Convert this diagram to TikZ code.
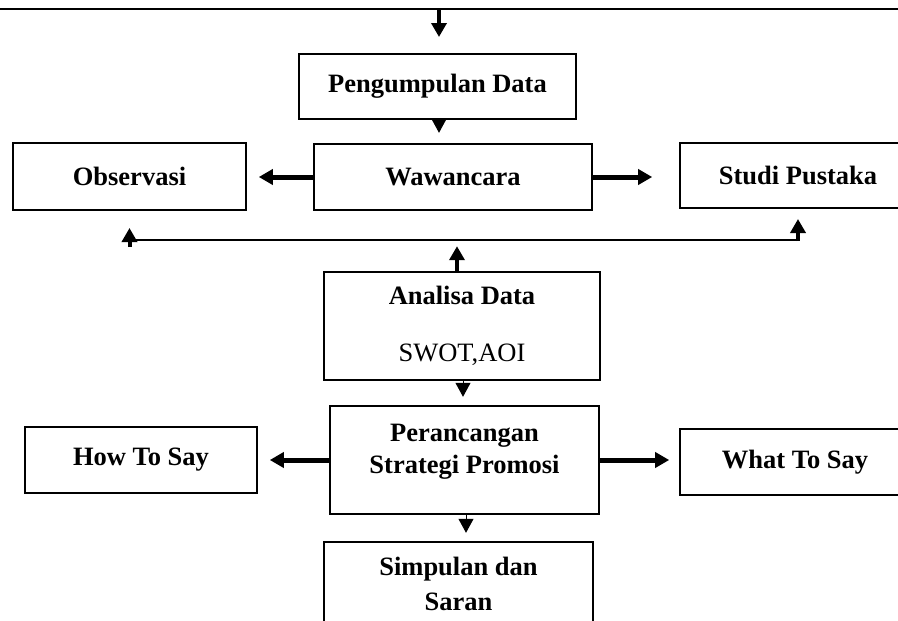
\documentclass[tikz,border=0pt]{standalone}
\usepackage{fontspec}
\setmainfont{Liberation Serif}
\usepackage{xcolor}
\usepackage{tikz}
\usetikzlibrary{arrows.meta,positioning,calc}
\definecolor{inkblack}{RGB}{0, 0, 0}

\begin{document}
\begin{tikzpicture}[x=1pt, y=-1pt,
        box/.style={draw=inkblack, line width=1.6pt, align=center,
            font=\bfseries\fontsize{26.5}{32}\selectfont},
        fatarrow/.style={draw=inkblack, line width=5pt,
            -{Triangle[width=15pt,length=14pt]}},
        midarrow/.style={draw=inkblack, line width=4pt,
            -{Triangle[width=15pt,length=14pt]}},
        tiparrow/.style={draw=inkblack, line width=1pt,
            -{Triangle[width=15pt,length=14pt]}},
        thinline/.style={draw=inkblack, line width=2pt}]
            \useasboundingbox (0,0) rectangle (898,621);
            \clip (0,0) rectangle (898,621);

            % Line from the step above
            \draw[inkblack, line width=2.6pt] (-5,9) -- (903,9);
            \coordinate (topline) at (439,9);
            \coordinate (brk) at (457,240);

            % Data collection
            \node[box, minimum width=277, minimum height=65] (peng) at (437.5,86.5) {Pengumpulan Data};
            \node[box, minimum width=233, minimum height=67] (obs) at (129.5,176.5) {Observasi};
            \node[box, minimum width=278, minimum height=66] (waw) at (453,177) {Wawancara};
            \node[box, minimum width=236, minimum height=65] (studi) at (798,175.5) {Studi Pustaka};

            % Analysis and design
            \node[box, minimum width=276, minimum height=108] (ana) at (462,326)
                {Analisa Data\\[25pt]\mdseries SWOT,AOI};
            \node[box, minimum width=269, minimum height=108, text depth=22pt] (peran) at (464.5,460)
                {Perancangan\\Strategi Promosi};
            \node[box, minimum width=232, minimum height=66] (how) at (141,460) {How To Say};
            \node[box, minimum width=230, minimum height=66] (what) at (795,462) {What To Say};
            \node[box, minimum width=269, minimum height=83,
                font=\bfseries\fontsize{26.5}{35}\selectfont] (simp) at (458.5,583.5)
                {Simpulan dan\\Saran};

            % Arrows
            \draw[midarrow] (topline) -- ++(0,28);
            \draw[tiparrow] ([xshift=1.5pt]peng.south) -- ++(0,13);
            \draw[fatarrow, shorten >=12pt] (waw.west) -- (waw.west -| obs.east);
            \draw[fatarrow, shorten >=27pt] (waw.east) -- (waw.east -| studi.west);

            \draw[thinline] (obs.south |- brk) -- (studi.south |- brk);
            \draw[midarrow] (obs.south |- brk) ++(0,7) -- ++(0,-19);
            \draw[midarrow] (studi.south |- brk) ++(0,1) -- ++(0,-22);
            \draw[midarrow] (brk |- ana.north) -- ++(0,-25);

            \draw[tiparrow] ([xshift=1pt]ana.south) -- ++(0,16);
            \draw[fatarrow, shorten >=12pt] (peran.west) -- (peran.west -| how.east);
            \draw[fatarrow, shorten >=10pt] (peran.east) -- (peran.east -| what.west);
            \draw[tiparrow] ([xshift=1.5pt]peran.south) -- ++(0,18);
        \end{tikzpicture}
\end{document}
